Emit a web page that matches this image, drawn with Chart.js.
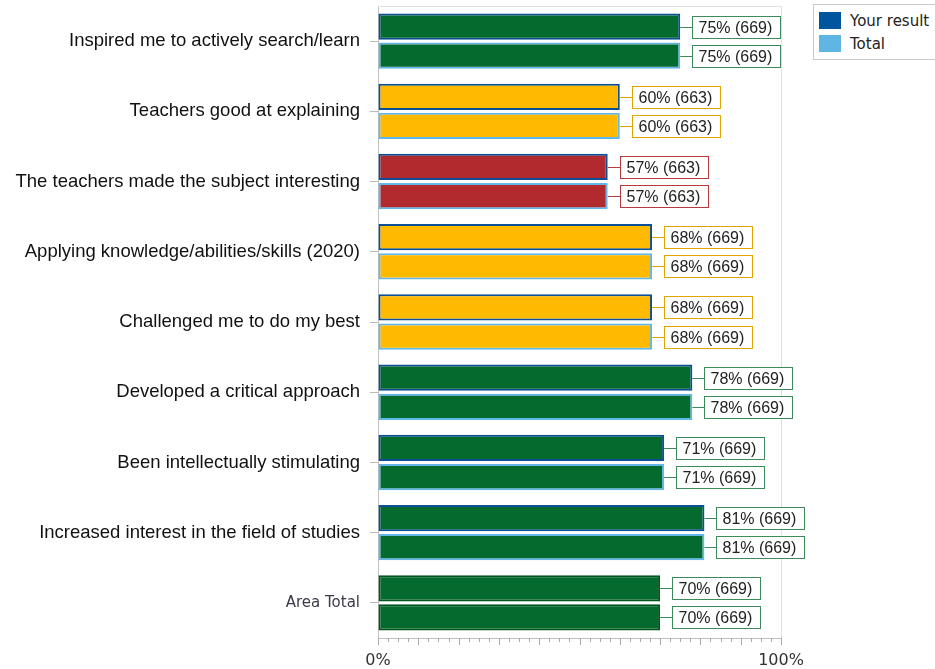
<!DOCTYPE html>
<html>
<head>
<meta charset="utf-8">
<script src="https://cdn.jsdelivr.net/npm/chart.js@4"></script>
<style>
  body { margin: 0; background: #fff; }
  #wrap { position: relative; width: 935px; height: 669px; }
  #legend {
    position: absolute; left: 813px; top: 4px; width: 130px; height: 56px;
    border: 1px solid #c8c8c8; background: #fff; box-sizing: border-box;
    font: 15px "DejaVu Sans", sans-serif; color: #222;
  }
  #legend div { position: absolute; left: 36px; height: 18px; line-height: 18px; white-space: nowrap; }
  #legend span { position: absolute; left: -31px; top: 0; width: 22px; height: 17px; }
</style>
</head>
<body>
<div id="wrap">
  <canvas id="c" width="935" height="669"></canvas>
  <div id="legend">
    <div style="top:7px"><span style="background:#00559f"></span>Your result</div>
    <div style="top:30px"><span style="background:#5fb6e5"></span>Total</div>
  </div>
</div>
<script>
/* survey result bars: your result vs total */
const categories = [
  "Inspired me to actively search/learn",
  "Teachers good at explaining",
  "The teachers made the subject interesting",
  "Applying knowledge/abilities/skills (2020)",
  "Challenged me to do my best",
  "Developed a critical approach",
  "Been intellectually stimulating",
  "Increased interest in the field of studies",
  "Area Total",
];
const yourResult = [75, 60, 57, 68, 68, 78, 71, 81, 70];
const totalResult = [75, 60, 57, 68, 68, 78, 71, 81, 70];
const respondents = [669, 663, 663, 669, 669, 669, 669, 669, 669];
const xTickLabels = { 0: "0%", 100: "100%" };

const GREEN = "#046a2e", YELLOW = "#ffba00", RED = "#b12b2e";
const barColors = [GREEN, YELLOW, RED, YELLOW, YELLOW, GREEN, GREEN, GREEN, GREEN];
const boxBorder = { [GREEN]: "#3f8a5a", [YELLOW]: "#e2a400", [RED]: "#b83a3d" };
const isTotalRow = (i) => i === categories.length - 1;

const valueBoxes = {
  id: "valueBoxes",
  afterDatasetsDraw(chart) {
    const ctx = chart.ctx;
    ctx.save();
    ctx.font = '16px "Liberation Sans", Arial, sans-serif';
    ctx.textBaseline = "middle";
    chart.data.datasets.forEach((ds, di) => {
      chart.getDatasetMeta(di).data.forEach((el, i) => {
        const text = `${ds.data[i]}% (${respondents[i]})`;
        const col = boxBorder[barColors[i]];
        const x0 = el.x, y = Math.round(el.y) + 0.5;
        const bx = Math.round(x0 + 12) + 0.5;
        const w = Math.round(ctx.measureText(text).width + 14);
        ctx.strokeStyle = col;
        ctx.lineWidth = 1;
        ctx.beginPath();
        ctx.moveTo(x0, y);
        ctx.lineTo(bx, y);
        ctx.stroke();
        ctx.fillStyle = "#fff";
        ctx.fillRect(bx, y - 11, w, 22);
        ctx.strokeRect(bx, y - 11, w, 22);
        ctx.fillStyle = "#222";
        ctx.textAlign = "left";
        ctx.fillText(text, bx + 6, y + 1);
      });
    });
    ctx.restore();
  },
};

const frameAndTicks = {
  id: "frameAndTicks",
  beforeDatasetsDraw(chart) {
    const { ctx, chartArea: a, scales } = chart;
    ctx.save();
    ctx.strokeStyle = "#e0e0e0";
    ctx.lineWidth = 1;
    ctx.beginPath();
    ctx.moveTo(a.left, a.top + 0.5);
    ctx.lineTo(a.right + 0.5, a.top + 0.5);
    ctx.lineTo(a.right + 0.5, a.bottom);
    ctx.stroke();
    ctx.strokeStyle = "#aaa";
    for (let v = 0; v <= 100; v += 2.5) {
      const x = Math.round(scales.x.getPixelForValue(v)) + 0.5;
      const len = v % 10 === 0 ? 7 : 4;
      ctx.beginPath();
      ctx.moveTo(x, a.bottom);
      ctx.lineTo(x, a.bottom + len);
      ctx.stroke();
    }
    ctx.restore();
  },
};

new Chart(document.getElementById("c"), {
  type: "bar",
  data: {
    labels: categories,
    datasets: [
      {
        label: "Your result",
        data: yourResult,
        backgroundColor: barColors,
        borderColor: categories.map((c, i) => (isTotalRow(i) ? "#03561f" : "#0b4f96")),
        borderWidth: 2,
        borderSkipped: false,
      },
      {
        label: "Total",
        data: totalResult,
        backgroundColor: barColors,
        borderColor: categories.map((c, i) => (isTotalRow(i) ? "#03561f" : "#62b7e9")),
        borderWidth: 2,
        borderSkipped: false,
      },
    ],
  },
  options: {
    indexAxis: "y",
    responsive: false,
    animation: false,
    categoryPercentage: 0.83,
    barPercentage: 0.9,
    layout: { padding: { top: 6, right: 154, left: 0, bottom: 0 } },
    plugins: { legend: { display: false }, tooltip: { enabled: false } },
    scales: {
      x: {
        min: 0,
        max: 100,
        ticks: {
          stepSize: 10,
          autoSkip: false,
          maxRotation: 0,
          padding: 13,
          color: "#333",
          font: { family: "DejaVu Sans", size: 16 },
          callback: (v) => xTickLabels[v] || "",
        },
        grid: {
          drawTicks: false,
          color: (ctx) => (ctx.tick && ctx.tick.value === 100 ? "#e0e0e0" : "rgba(0,0,0,0)"),
        },
        border: { color: "#c0c0c0" },
        afterFit: (s) => { s.height = 31; s.paddingLeft = 0; s.paddingRight = 0; },
      },
      y: {
        ticks: {
          padding: 10,
          color: (ctx) => (isTotalRow(ctx.index) ? "#3a3a4a" : "#111"),
          font: (ctx) =>
            isTotalRow(ctx.index)
              ? { family: "DejaVu Sans", size: 15 }
              : { family: "Liberation Sans", size: 18.5 },
        },
        grid: { offset: false, drawOnChartArea: false, tickLength: 8, tickColor: "#bbb" },
        border: { color: "#c0c0c0" },
        afterFit: (s) => { s.width = 378; s.paddingTop = 0; s.paddingBottom = 0; },
      },
    },
  },
  plugins: [frameAndTicks, valueBoxes],
});
</script>
</body>
</html>
